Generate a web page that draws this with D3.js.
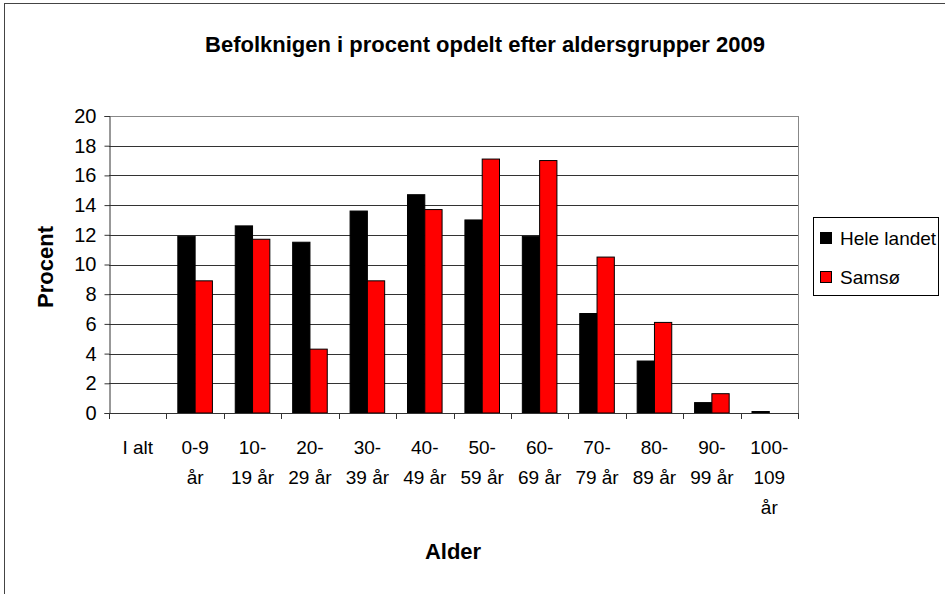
<!DOCTYPE html>
<html lang="da">
<head>
<meta charset="UTF-8">
<title>Befolkningen</title>
<script src="https://d3js.org/d3.v7.min.js"></script>
<style>
  body { margin: 0; background: #fff; }
  svg { font-family: "Liberation Sans", Arial, sans-serif; }
</style>
</head>
<body>
<svg width="945" height="594"></svg>
<script>
// data
const categories = ["I alt", "0-9 år", "10-19 år", "20-29 år", "30-39 år", "40-49 år",
                    "50-59 år", "60-69 år", "70-79 år", "80-89 år", "90-99 år", "100-109 år"];
// how Excel wrapped each tick label
const categoryLines = [["I alt"], ["0-9", "år"], ["10-", "19 år"], ["20-", "29 år"], ["30-", "39 år"],
                       ["40-", "49 år"], ["50-", "59 år"], ["60-", "69 år"], ["70-", "79 år"],
                       ["80-", "89 år"], ["90-", "99 år"], ["100-", "109", "år"]];
const seriesNames = ["Hele landet", "Samsø"];
const heleLandet = [0, 11.9, 12.6, 11.5, 13.6, 14.7, 13.0, 11.9, 6.7, 3.5, 0.7, 0.1];
const samsoe     = [0, 8.9, 11.7, 4.3, 8.9, 13.7, 17.1, 17.0, 10.5, 6.1, 1.3, 0];
const yTicks = [0, 2, 4, 6, 8, 10, 12, 14, 16, 18, 20];
const colors = ["#000000", "#ff0000"];

const svg = d3.select("svg");
const plotL = 109, plotR = 798, plotT = 116, plotB = 413;

// outer chart border
svg.append("rect")
  .attr("x", 4.5).attr("y", 3.5).attr("width", 960).attr("height", 620)
  .attr("fill", "none").attr("stroke", "#444").attr("stroke-width", 1);

svg.append("text")
  .attr("x", 485).attr("y", 52)
  .attr("text-anchor", "middle")
  .attr("font-weight", "bold").attr("font-size", 22)
  .text("Befolknigen i procent opdelt efter aldersgrupper 2009");

const x = d3.scaleBand().domain(categories).range([plotL, plotR]).padding(0);
const xs = d3.scaleBand().domain(seriesNames).range([0, x.bandwidth()]).paddingInner(0).paddingOuter(0.66);
const y = d3.scaleLinear().domain([0, 20]).range([plotB, plotT]);

// gridlines
svg.append("g").selectAll("line")
  .data(yTicks.filter(d => d > 0))
  .join("line")
  .attr("x1", plotL).attr("x2", plotR)
  .attr("y1", d => Math.round(y(d)) + 0.5).attr("y2", d => Math.round(y(d)) + 0.5)
  .attr("stroke", d => d === 20 ? "#888" : "#333");

// plot right border
svg.append("line")
  .attr("x1", plotR + 0.5).attr("x2", plotR + 0.5).attr("y1", plotT).attr("y2", plotB)
  .attr("stroke", "#888");

// bars
const rows = categories.map((c, i) => ({ c, vals: [heleLandet[i], samsoe[i]] }));
svg.append("g").selectAll("g")
  .data(rows)
  .join("g")
  .attr("transform", d => `translate(${x(d.c)},0)`)
  .selectAll("rect")
  .data(d => d.vals.map((v, k) => ({ v, k })).filter(e => e.v > 0))
  .join("rect")
  .attr("x", e => xs(seriesNames[e.k]))
  .attr("y", e => y(e.v))
  .attr("width", xs.bandwidth())
  .attr("height", e => y(0) - y(e.v))
  .attr("fill", e => colors[e.k])
  .attr("stroke", "#000").attr("stroke-width", 1);

// y axis
const yAxis = svg.append("g")
  .attr("transform", `translate(${plotL + 0.5},0)`)
  .call(d3.axisLeft(y).tickValues(yTicks).tickSize(5).tickPadding(8).tickFormat(d3.format("d")));
yAxis.select(".domain").attr("stroke", "#333");
yAxis.selectAll(".tick line").attr("stroke", "#333");
yAxis.selectAll(".tick text").attr("font-size", 20).attr("fill", "#000")
  .attr("font-family", "Liberation Sans, Arial, sans-serif");

// x axis line and ticks at band edges
const xg = svg.append("g");
xg.append("line")
  .attr("x1", plotL).attr("x2", plotR + 1).attr("y1", plotB + 0.5).attr("y2", plotB + 0.5)
  .attr("stroke", "#333");
xg.selectAll("line.tk")
  .data(categories.map(c => x(c)).concat([plotR]))
  .join("line").attr("class", "tk")
  .attr("x1", d => Math.round(d) + 0.5).attr("x2", d => Math.round(d) + 0.5)
  .attr("y1", plotB).attr("y2", plotB + 6)
  .attr("stroke", "#333");

xg.selectAll("text.lbl")
  .data(categories)
  .join("text").attr("class", "lbl")
  .attr("x", d => x(d) + x.bandwidth() / 2)
  .attr("y", 454)
  .attr("text-anchor", "middle")
  .attr("font-size", 19)
  .each(function (d, i) {
    d3.select(this).selectAll("tspan")
      .data(categoryLines[i])
      .join("tspan")
      .attr("x", x(d) + x.bandwidth() / 2)
      .attr("dy", (t, j) => j === 0 ? 0 : 30)
      .text(t => t);
  });

// axis titles
svg.append("text")
  .attr("x", 453).attr("y", 559)
  .attr("text-anchor", "middle")
  .attr("font-weight", "bold").attr("font-size", 22)
  .text("Alder");

svg.append("text")
  .attr("transform", "translate(53,267) rotate(-90)")
  .attr("text-anchor", "middle")
  .attr("font-weight", "bold").attr("font-size", 22)
  .text("Procent");

// legend
const lg = svg.append("g");
lg.append("rect")
  .attr("x", 813.5).attr("y", 217.5).attr("width", 125).attr("height", 78)
  .attr("fill", "#fff").attr("stroke", "#000");
seriesNames.forEach((s, k) => {
  const cy = 238 + k * 39;
  lg.append("rect")
    .attr("x", 820.5).attr("y", cy - 5.5).attr("width", 11).attr("height", 11)
    .attr("fill", colors[k]).attr("stroke", "#000");
  lg.append("text")
    .attr("x", 840).attr("y", cy + 7)
    .attr("font-size", 19)
    .text(s);
});
</script>
</body>
</html>
